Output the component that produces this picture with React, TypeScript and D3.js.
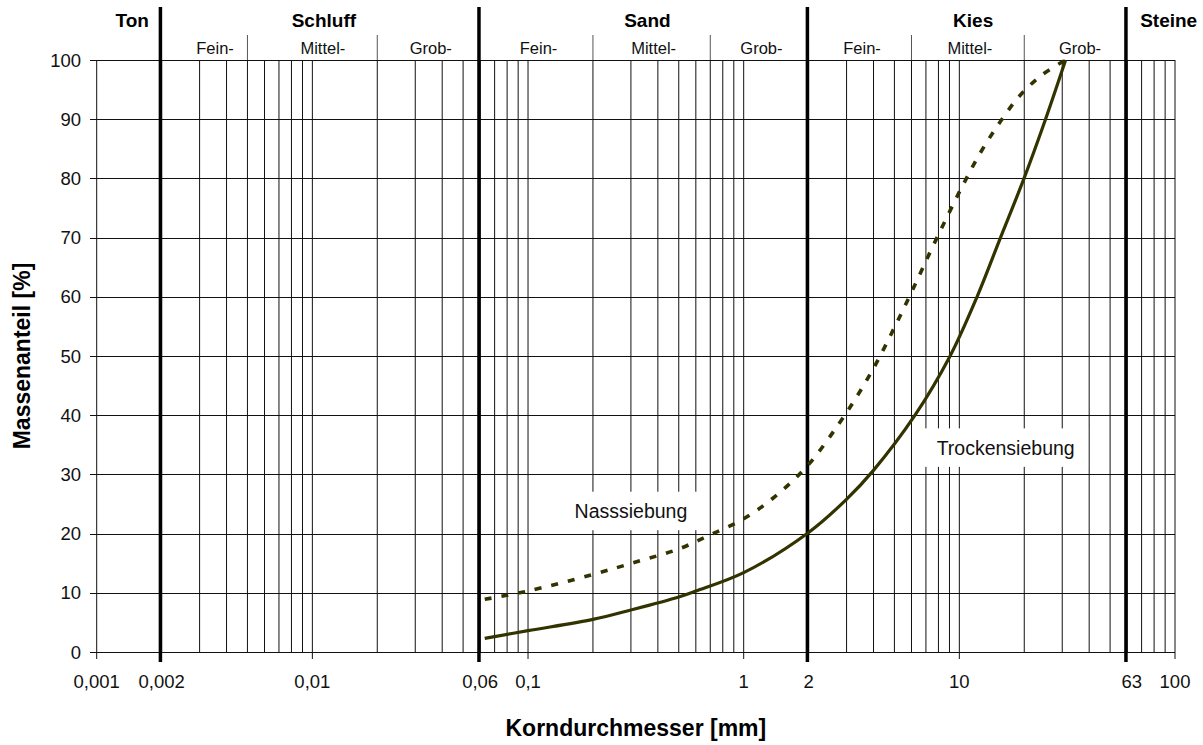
import React, { useEffect } from 'react';
import * as d3 from 'd3';

// ---- data ----
const xTickValues = [0.001, 0.002, 0.01, 0.06, 0.1, 1, 2, 10, 63, 100];
const xTickLabels = ['0,001', '0,002', '0,01', '0,06', '0,1', '1', '2', '10', '63', '100'];
const yTickValues = [0, 10, 20, 30, 40, 50, 60, 70, 80, 90, 100];
const decadeTicks = [0.001, 0.01, 0.1, 1, 10, 100];

const mainBoundaries = [0.002, 0.06, 2, 60];
const mainNames = ['Ton', 'Schluff', 'Sand', 'Kies', 'Steine'];
const mainFrom = [0.001, 0.002, 0.06, 2, 63];
const mainTo = [0.002, 0.06, 2, 63, 100];

const subDividers = [0.005, 0.02, 0.2, 0.7, 6, 20];
const subNames = ['Fein-', 'Mittel-', 'Grob-', 'Fein-', 'Mittel-', 'Grob-', 'Fein-', 'Mittel-', 'Grob-'];
const subFrom = [0.002, 0.006, 0.02, 0.06, 0.2, 0.7, 2, 6, 20];
const subTo = [0.006, 0.02, 0.06, 0.2, 0.7, 2, 6, 20, 63];

// Trockensiebung (solid)
const trockenD = [0.063, 0.1, 0.2, 0.3, 0.5, 0.6, 1.0, 2.0, 2.98, 3.98, 6.23, 9.06, 12.08, 15.52, 19.95, 25.1, 31.1];
const trockenP = [2.3, 3.6, 5.5, 7.1, 9.3, 10.3, 13.4, 20.2, 25.7, 30.6, 40, 50, 60, 70, 80, 90, 100];

// Nasssiebung (dashed)
const nassD = [0.063, 0.1, 0.2, 0.33, 0.5, 0.7, 1.0, 1.4, 1.99, 2.77, 3.46, 4.15, 5.03, 6.04, 7.31, 8.77, 10.5, 12.6, 15.5, 19.1, 24.2, 31.1];
const nassP = [8.9, 10.3, 13.1, 15.4, 17.4, 19.8, 22.5, 26.3, 31.6, 38.6, 44, 49, 55, 61, 67.5, 73.5, 79.2, 84.5, 89.6, 94, 97.5, 100];

const curveLabels = ['Nasssiebung', 'Trockensiebung'];
const curveLabelX = [0.3, 16.4];
const curveLabelY = [22.6, 33.3];

const FONT = "'Liberation Sans', Arial, Helvetica, sans-serif";
const LINE_COLOR = '#333300';

export default function App() {
  useEffect(() => {
    document.body.style.margin = '0';
  }, []);

  const x = d3.scaleLog().domain([0.001, 100]).range([96.7, 1175]);
  const y = d3.scaleLinear().domain([0, 100]).range([652, 60]);

  // minor grid: 1..9 per decade
  const gridVals: number[] = [];
  for (let e = -3; e <= 1; e++) {
    for (let m = 1; m <= 9; m++) gridVals.push(m * Math.pow(10, e));
  }
  gridVals.push(100);

  const line = d3
    .line<[number, number]>()
    .x((d) => x(d[0]))
    .y((d) => y(d[1]))
    .curve(d3.curveCatmullRom.alpha(0.5));

  const trocken = trockenD.map((d, i) => [d, trockenP[i]] as [number, number]);
  const nass = nassD.map((d, i) => [d, nassP[i]] as [number, number]);

  const left = x(0.001);
  const right = x(100);
  const top = y(100);
  const bottom = y(0);

  return (
    <div style={{ position: 'absolute', left: 0, top: 0 }}>
      <svg width={1203} height={745} style={{ display: 'block', background: '#fff' }} fontFamily={FONT}>
        <rect x={0} y={0} width={1203} height={745} fill="#fff" />
        {/* vertical grid */}
        {gridVals.map((v, i) => (
          <line key={'vg' + i} x1={x(v)} x2={x(v)} y1={top} y2={bottom} stroke="#111" strokeWidth={1} />
        ))}
        {/* horizontal grid */}
        {yTickValues.map((v) => (
          <line
            key={'hg' + v}
            x1={left - 6.5}
            x2={right}
            y1={Math.round(y(v)) + 0.5}
            y2={Math.round(y(v)) + 0.5}
            stroke="#111"
            strokeWidth={1}
            shapeRendering="crispEdges"
          />
        ))}
        {/* x decade ticks */}
        {decadeTicks.map((v) => (
          <line key={'xt' + v} x1={x(v)} x2={x(v)} y1={bottom} y2={bottom + 7} stroke="#111" strokeWidth={1} />
        ))}
        {/* sub dividers in header */}
        {subDividers.map((v, i) => (
          <line key={'sd' + i} x1={x(v)} x2={x(v)} y1={35} y2={top} stroke="#555" strokeWidth={1} />
        ))}
        {/* thick boundaries */}
        {mainBoundaries.map((v, i) => (
          <line key={'mb' + i} x1={x(v) - 1.2} x2={x(v) - 1.2} y1={7} y2={bottom + 10} stroke="#000" strokeWidth={3.5} />
        ))}
        {/* header labels */}
        {mainNames.map((n, i) => {
          const isLast = i === mainNames.length - 1;
          const cx = isLast ? x(mainBoundaries[mainBoundaries.length - 1]) + 13 : (x(mainFrom[i]) + x(mainTo[i])) / 2 + 3;
          return (
            <text key={'mn' + i} x={cx} y={27} fontSize={19} fontWeight="bold" textAnchor={isLast ? 'start' : 'middle'} fill="#000">
              {n}
            </text>
          );
        })}
        {subNames.map((n, i) => (
          <text key={'sn' + i} x={(x(subFrom[i]) + x(subTo[i])) / 2 + 2} y={54} fontSize={16.5} textAnchor="middle" fill="#111">
            {n}
          </text>
        ))}
        {/* curve label boxes */}
        {curveLabels.map((t, i) => {
          const cx = x(curveLabelX[i]);
          const by = y(curveLabelY[i]);
          const w = t.length * 10.2 + 22;
          return (
            <g key={'cl' + i}>
              <rect x={cx - w / 2} y={by - 26.5} width={w} height={38.5} fill="#fff" />
              <text x={cx} y={by} fontSize={19.5} textAnchor="middle" fill="#111">
                {t}
              </text>
            </g>
          );
        })}
        {/* curves */}
        <path d={line(nass) || ''} fill="none" stroke={LINE_COLOR} strokeWidth={3.6} strokeDasharray="7,10" />
        <path d={line(trocken) || ''} fill="none" stroke={LINE_COLOR} strokeWidth={3.2} />
        {/* y tick labels */}
        {yTickValues.map((v) => (
          <text key={'yl' + v} x={81} y={y(v) + 6.5} fontSize={18.5} textAnchor="end" fill="#111">
            {v}
          </text>
        ))}
        {/* x tick labels */}
        {xTickValues.map((v, i) => (
          <text key={'xl' + i} x={x(v)} y={688} fontSize={18.5} textAnchor="middle" fill="#111">
            {xTickLabels[i]}
          </text>
        ))}
        {/* axis titles */}
        <text x={(left + right) / 2} y={736} fontSize={23} fontWeight="bold" textAnchor="middle" fill="#000">
          Korndurchmesser [mm]
        </text>
        <text
          transform={`translate(30, ${(top + bottom) / 2}) rotate(-90)`}
          fontSize={23}
          fontWeight="bold"
          textAnchor="middle"
          fill="#000"
        >
          Massenanteil [%]
        </text>
      </svg>
    </div>
  );
}
